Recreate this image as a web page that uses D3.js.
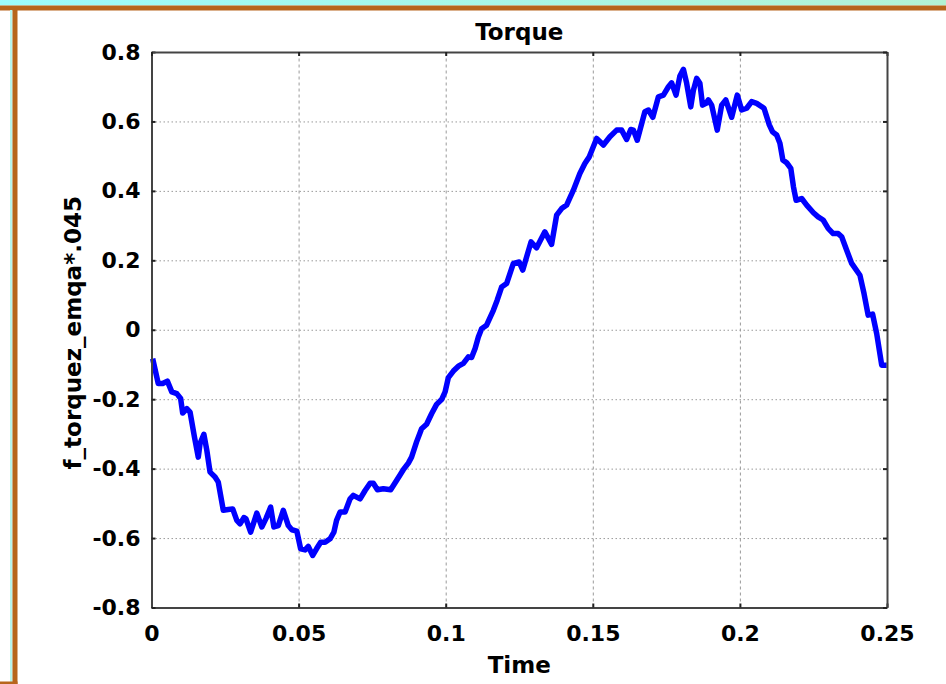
<!DOCTYPE html>
<html>
<head>
<meta charset="utf-8">
<script src="https://cdn.jsdelivr.net/npm/d3@7"></script>
<style>
  body { margin: 0; background: #fff; }
  text { font-family: "DejaVu Sans", Verdana, sans-serif; font-weight: bold; fill: #000; }
</style>
</head>
<body>
<script>
// sample times (s)
var timeVals = [
  0.0004, 0.0023, 0.0038, 0.0054, 0.0069, 0.0086, 0.0099, 0.0106, 0.0120, 0.0131,
  0.0146, 0.0159, 0.0165, 0.0178, 0.0188, 0.0199, 0.0216, 0.0227, 0.0244, 0.0261,
  0.0276, 0.0290, 0.0301, 0.0314, 0.0321, 0.0337, 0.0358, 0.0375, 0.0389, 0.0405,
  0.0416, 0.0431, 0.0448, 0.0465, 0.0477, 0.0494, 0.0507, 0.0522, 0.0533, 0.0548,
  0.0561, 0.0575, 0.0590, 0.0607, 0.0620, 0.0629, 0.0641, 0.0658, 0.0675, 0.0686,
  0.0709, 0.0726, 0.0743, 0.0754, 0.0768, 0.0788, 0.0813, 0.0833, 0.0856, 0.0873,
  0.0884, 0.0901, 0.0918, 0.0935, 0.0952, 0.0969, 0.0986, 0.0998, 0.1009, 0.1026,
  0.1043, 0.1060, 0.1077, 0.1088, 0.1100, 0.1111, 0.1122, 0.1139, 0.1162, 0.1175,
  0.1190, 0.1207, 0.1230, 0.1250, 0.1262, 0.1290, 0.1309, 0.1337, 0.1360, 0.1377,
  0.1394, 0.1411, 0.1434, 0.1456, 0.1473, 0.1488, 0.1513, 0.1536, 0.1558, 0.1581,
  0.1598, 0.1615, 0.1629, 0.1638, 0.1651, 0.1677, 0.1689, 0.1704, 0.1723, 0.1740,
  0.1757, 0.1768, 0.1783, 0.1796, 0.1808, 0.1819, 0.1833, 0.1842, 0.1853, 0.1864,
  0.1873, 0.1885, 0.1893, 0.1904, 0.1923, 0.1938, 0.1952, 0.1972, 0.1991, 0.2006,
  0.2023, 0.2040, 0.2057, 0.2082, 0.2100, 0.2111, 0.2125, 0.2136, 0.2146, 0.2159,
  0.2173, 0.2182, 0.2191, 0.2210, 0.2227, 0.2250, 0.2266, 0.2283, 0.2300, 0.2317,
  0.2334, 0.2346, 0.2363, 0.2380, 0.2408, 0.2422, 0.2436, 0.2451, 0.2465, 0.2482,
  0.2499
];

// f_torquez_emqa*.045
var torqueVals = [
  -0.083, -0.155, -0.155, -0.148, -0.179, -0.184, -0.198, -0.240, -0.227, -0.237,
  -0.309, -0.367, -0.328, -0.301, -0.347, -0.410, -0.424, -0.439, -0.520, -0.518,
  -0.516, -0.549, -0.559, -0.541, -0.544, -0.583, -0.528, -0.568, -0.544, -0.511,
  -0.568, -0.564, -0.520, -0.564, -0.576, -0.580, -0.631, -0.634, -0.624, -0.650,
  -0.631, -0.612, -0.612, -0.602, -0.583, -0.549, -0.525, -0.525, -0.487, -0.477,
  -0.487, -0.463, -0.442, -0.442, -0.461, -0.458, -0.461, -0.434, -0.403, -0.384,
  -0.367, -0.323, -0.285, -0.272, -0.242, -0.215, -0.201, -0.179, -0.138, -0.119,
  -0.105, -0.097, -0.078, -0.080, -0.054, -0.021, 0.003, 0.013, 0.056, 0.085,
  0.123, 0.133, 0.191, 0.195, 0.172, 0.253, 0.236, 0.282, 0.246, 0.330,
  0.349, 0.359, 0.402, 0.450, 0.479, 0.498, 0.551, 0.532, 0.556, 0.575,
  0.575, 0.548, 0.577, 0.575, 0.546, 0.628, 0.633, 0.612, 0.671, 0.676,
  0.700, 0.711, 0.676, 0.731, 0.750, 0.710, 0.642, 0.690, 0.724, 0.710,
  0.647, 0.652, 0.662, 0.647, 0.575, 0.647, 0.662, 0.612, 0.676, 0.633,
  0.638, 0.657, 0.652, 0.638, 0.590, 0.570, 0.561, 0.537, 0.489, 0.481,
  0.465, 0.412, 0.373, 0.378, 0.359, 0.337, 0.325, 0.316, 0.292, 0.277,
  0.277, 0.268, 0.229, 0.191, 0.157, 0.104, 0.042, 0.045, -0.011, -0.102,
  -0.102
];

var xTicks = [0, 0.05, 0.1, 0.15, 0.2, 0.25];
var yTicks = [-0.8, -0.6, -0.4, -0.2, 0, 0.2, 0.4, 0.6, 0.8];

var w = 946, h = 684;
// plot box edges (don't name these top/left: window.top is read-only)
var plotL = 151.5, plotR = 887, plotT = 52, plotB = 607.5;

var svg = d3.select("body")
  .append("svg")
  .attr("width", w)
  .attr("height", h);

// window frame decoration (cyan band + brown border)
var grad = svg.append("defs").append("linearGradient")
  .attr("id", "band")
  .attr("x1", "0").attr("x2", "1").attr("y1", "0").attr("y2", "0");
grad.append("stop").attr("offset", "0").attr("stop-color", "#9cfbfb");
grad.append("stop").attr("offset", "1").attr("stop-color", "#b3f2d4");

svg.append("rect").attr("x", 0).attr("y", 0).attr("width", w).attr("height", 5.5)
  .style("fill", "url(#band)");
svg.append("rect").attr("x", 0).attr("y", 5.5).attr("width", w).attr("height", 5)
  .style("fill", "#b7651c");
svg.append("rect").attr("x", 10).attr("y", 10).attr("width", 2.5).attr("height", h - 10)
  .style("fill", "#b8f4ec");
svg.append("rect").attr("x", 12.5).attr("y", 10).attr("width", 5).attr("height", h - 10)
  .style("fill", "#b7651c");
svg.append("rect").attr("x", 0).attr("y", h - 2.5).attr("width", 17.5).attr("height", 2.5)
  .style("fill", "#b7651c");

var x = d3.scaleLinear()
  .domain([0, 0.25])
  .range([plotL, plotR]);

var y = d3.scaleLinear()
  .domain([-0.8, 0.8])
  .range([plotB, plotT]);

// gridlines
svg.append("g")
  .attr("class", "grid-x")
  .attr("transform", "translate(0," + plotB + ")")
  .call(d3.axisBottom(x).tickValues(xTicks).tickSize(-(plotB - plotT)).tickFormat(""))
  .call(function(g){
    g.select(".domain").remove();
    g.selectAll("line").style("stroke", "#9a9a9a").style("stroke-width", 1)
      .style("stroke-dasharray", "3,3");
  });

svg.append("g")
  .attr("class", "grid-y")
  .attr("transform", "translate(" + plotL + ",0)")
  .call(d3.axisLeft(y).tickValues(yTicks).tickSize(-(plotR - plotL)).tickFormat(""))
  .call(function(g){
    g.select(".domain").remove();
    g.selectAll("line").style("stroke", "#9a9a9a").style("stroke-width", 1)
      .style("stroke-dasharray", "1.5,2.5");
  });

// the torque trace
var pts = timeVals.map(function(t, i){ return [t, torqueVals[i]]; });
var line = d3.line()
  .x(function(d){ return x(d[0]); })
  .y(function(d){ return y(d[1]); });

svg.append("path")
  .datum(pts)
  .attr("d", line)
  .style("fill", "none")
  .style("stroke", "#0000ff")
  .style("stroke-width", 5.5)
  .style("stroke-linejoin", "round");

// axes with inward ticks
function styleAxis(g){
  g.select(".domain").style("stroke", "#444").style("stroke-width", 2);
  g.selectAll(".tick line").style("stroke", "#222").style("stroke-width", 2);
  g.selectAll(".tick text").style("font-size", "22px");
}

svg.append("g")
  .attr("transform", "translate(0," + plotB + ")")
  .call(d3.axisBottom(x).tickValues(xTicks).tickSizeInner(-4).tickSizeOuter(0).tickPadding(18)
    .tickFormat(function(d){ return String(+d.toFixed(2)); }))
  .call(styleAxis);

svg.append("g")
  .attr("transform", "translate(" + plotL + ",0)")
  .call(d3.axisLeft(y).tickValues(yTicks).tickSizeInner(-4).tickSizeOuter(0).tickPadding(11)
    .tickFormat(function(d){ return d === 0 ? "0" : d.toFixed(1); }))
  .call(styleAxis);

svg.append("g")
  .attr("transform", "translate(0," + plotT + ")")
  .call(d3.axisTop(x).tickValues(xTicks).tickSizeInner(-4).tickSizeOuter(0).tickFormat(""))
  .call(styleAxis);

svg.append("g")
  .attr("transform", "translate(" + plotR + ",0)")
  .call(d3.axisRight(y).tickValues(yTicks).tickSizeInner(-4).tickSizeOuter(0).tickFormat(""))
  .call(styleAxis);

// title and axis labels
svg.append("text")
  .attr("x", (plotL + plotR) / 2)
  .attr("y", 40)
  .attr("text-anchor", "middle")
  .style("font-size", "23px")
  .text("Torque");

svg.append("text")
  .attr("x", (plotL + plotR) / 2)
  .attr("y", 673)
  .attr("text-anchor", "middle")
  .style("font-size", "23px")
  .text("Time");

svg.append("text")
  .attr("transform", "translate(81," + ((plotT + plotB) / 2 + 3) + ") rotate(-90)")
  .attr("text-anchor", "middle")
  .style("font-size", "23px")
  .text("f_torquez_emqa*.045");
</script>
</body>
</html>
